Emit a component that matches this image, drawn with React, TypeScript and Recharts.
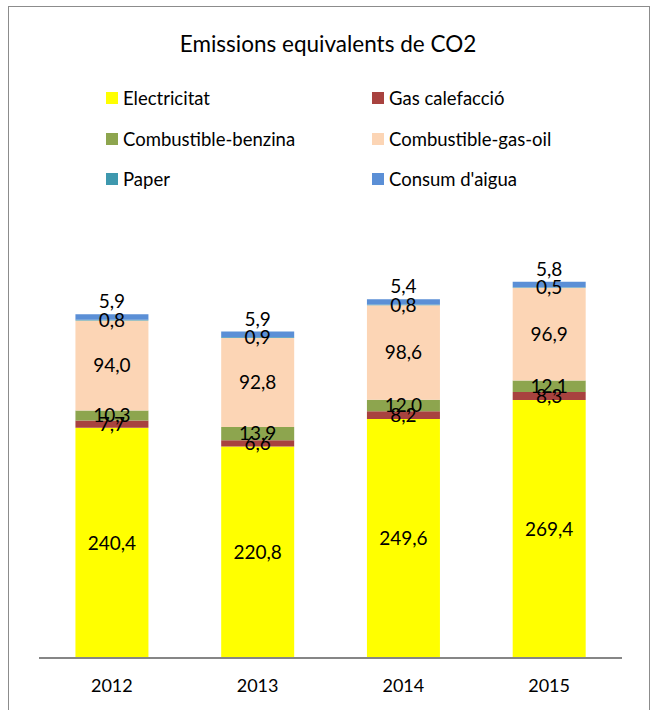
import { BarChart, Bar, XAxis, YAxis, LabelList } from "recharts";

const years = ["2012", "2013", "2014", "2015"];
const electricitat = [240.4, 220.8, 249.6, 269.4];
const gasCalefaccio = [7.7, 6.6, 8.2, 8.3];
const benzina = [10.3, 13.9, 12.0, 12.1];
const gasOil = [94.0, 92.8, 98.6, 96.9];
const paper = [0.8, 0.9, 0.8, 0.5];
const aigua = [5.9, 5.9, 5.4, 5.8];

const series = [
  { key: "elec", name: "Electricitat", values: electricitat, color: "#FFFF00" },
  { key: "gas", name: "Gas calefacció", values: gasCalefaccio, color: "#A8423F" },
  { key: "benz", name: "Combustible-benzina", values: benzina, color: "#8DA54E" },
  { key: "oil", name: "Combustible-gas-oil", values: gasOil, color: "#FCD5B5" },
  { key: "paper", name: "Paper", values: paper, color: "#3E98AE" },
  { key: "aigua", name: "Consum d'aigua", values: aigua, color: "#5B8FD6" },
];

const rows = years.map((year, i) => {
  const row: Record<string, string | number> = { year };
  series.forEach((s) => (row[s.key] = s.values[i]));
  return row;
});

const font = "Lato, 'Open Sans', sans-serif";
const fmt = (v: any) => Number(v).toFixed(1).replace(".", ",");

export default function App() {
  return (
    <div style={{ position: "fixed", left: 0, top: 0, width: 656, height: 710, fontFamily: font, overflow: "hidden", background: "#fff" }}>
      <div
        style={{
          position: "absolute",
          left: 8,
          top: 6,
          width: 640,
          height: 720,
          border: "1px solid #8c8c8c",
        }}
      />
      <div style={{ position: "absolute", top: 30, left: 0, width: 656, textAlign: "center", fontSize: 22.5, color: "#000" }}>
        Emissions equivalents de CO2
      </div>
      {series.map((s, i) => (
        <div
          key={s.key}
          style={{
            position: "absolute",
            left: i % 2 === 0 ? 106 : 372,
            top: 98 + Math.floor(i / 2) * 40.5 - 12,
            height: 24,
            display: "flex",
            alignItems: "center",
            fontSize: 18.5,
            color: "#000",
          }}
        >
          <span style={{ width: 12, height: 12, background: s.color, marginRight: 5, display: "inline-block" }} />
          {s.name}
        </div>
      ))}
      <div style={{ position: "absolute", left: 0, top: 0 }}>
        <BarChart
          width={656}
          height={710}
          data={rows}
          margin={{ top: 275, right: 34, left: 39, bottom: 22 }}
          barCategoryGap="25%"
        >
          <XAxis
            dataKey="year"
            axisLine={{ stroke: "#868686", strokeWidth: 2 }}
            tickLine={false}
            tickMargin={15}
            tick={{ fontSize: 18, fill: "#000", fontFamily: font }}
          />
          <YAxis hide domain={[0, 400]} />
          {series.map((s) => (
            <Bar key={s.key} dataKey={s.key} stackId="a" fill={s.color} isAnimationActive={false}>
              <LabelList
                dataKey={s.key}
                position={s.key === "aigua" ? "top" : "center"}
                offset={6}
                formatter={fmt}
                style={{ fontSize: 19, fill: "#000", fontFamily: font }}
              />
            </Bar>
          ))}
        </BarChart>
      </div>
    </div>
  );
}
